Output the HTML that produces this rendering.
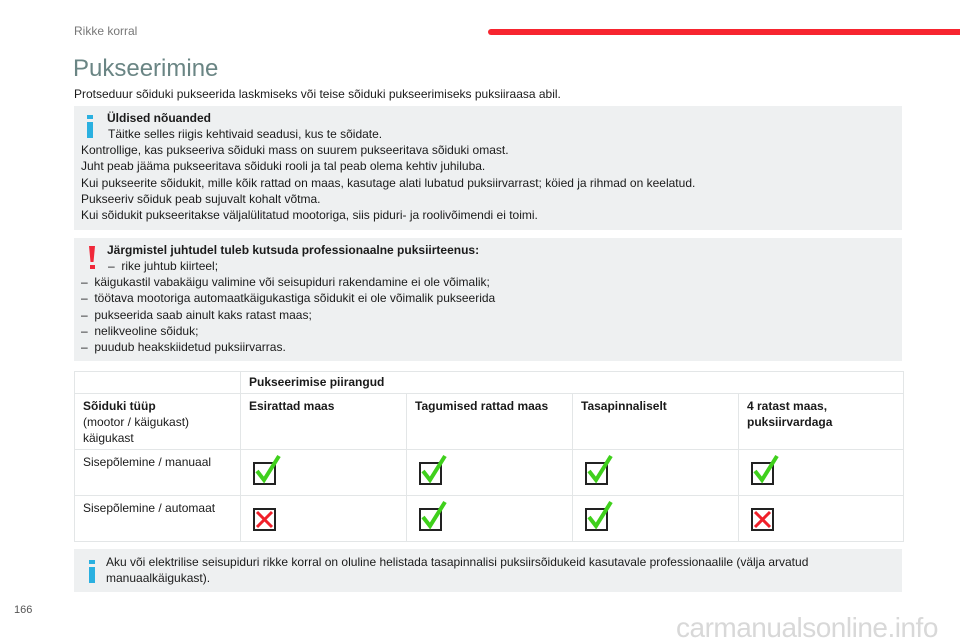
<!DOCTYPE html>
<html><head><meta charset="utf-8"><style>
body{margin:0;width:960px;height:640px;background:#fff;position:relative;overflow:hidden;font-family:"Liberation Sans",Arial,sans-serif;color:#1a1a1a}
.a{position:absolute;white-space:nowrap}
.box{position:absolute;left:74px;width:828px;background:#eef0f1}
.t{font-size:12px;line-height:16.3px}
.ib{position:absolute;width:6px;background:#2ab0e0}
td{border:1px solid #e3e6e7;vertical-align:top;padding:4px 8px 0 8px;font-size:12px;line-height:16px;box-sizing:border-box}
table{position:absolute;left:74px;top:371px;border-collapse:collapse;width:829px;table-layout:fixed}
.cb{display:block;position:relative;width:19px;height:19px;border:2px solid #222;margin-top:8px;margin-left:4px}
</style></head><body>
<div class="a" style="left:74px;top:24px;font-size:12px;color:#777">Rikke korral</div>
<div class="a" style="left:488px;top:29px;width:472px;height:6px;background:#f7252f;border-radius:3px 0 0 3px"></div>
<div class="a" style="left:73px;top:55px;font-size:24px;color:#6a8584">Pukseerimine</div>
<div class="a t" style="left:74px;top:86px">Protseduur sõiduki pukseerida laskmiseks või teise sõiduki pukseerimiseks puksiiraasa abil.</div>

<div class="box" style="top:106px;height:124px">
<div class="ib" style="left:13px;top:9px;height:4px"></div>
<div class="ib" style="left:13px;top:16px;height:16px"></div>
<div class="a t" style="left:33px;top:4px;font-weight:bold">Üldised nõuanded</div>
<div class="a t" style="left:34px;top:20px">Täitke selles riigis kehtivaid seadusi, kus te sõidate.</div>
<div class="a t" style="left:7px;top:36px">Kontrollige, kas pukseeriva sõiduki mass on suurem pukseeritava sõiduki omast.<br>Juht peab jääma pukseeritava sõiduki rooli ja tal peab olema kehtiv juhiluba.<br>Kui pukseerite sõidukit, mille kõik rattad on maas, kasutage alati lubatud puksiirvarrast; köied ja rihmad on keelatud.<br>Pukseeriv sõiduk peab sujuvalt kohalt võtma.<br>Kui sõidukit pukseeritakse väljalülitatud mootoriga, siis piduri- ja roolivõimendi ei toimi.</div>
</div>

<div class="box" style="top:238px;height:123px">
<div class="a" style="left:15px;top:8px;width:6px;height:16px;background:#f0283a;clip-path:polygon(0 0,100% 0,75% 100%,25% 100%)"></div>
<div class="a" style="left:16px;top:27px;width:5px;height:4px;background:#f0283a"></div>
<div class="a t" style="left:33px;top:4px;font-weight:bold">Järgmistel juhtudel tuleb kutsuda professionaalne puksiirteenus:</div>
<div class="a t" style="left:34px;top:20px">–&nbsp; rike juhtub kiirteel;</div>
<div class="a t" style="left:7px;top:36px">–&nbsp; käigukastil vabakäigu valimine või seisupiduri rakendamine ei ole võimalik;<br>–&nbsp; töötava mootoriga automaatkäigukastiga sõidukit ei ole võimalik pukseerida<br>–&nbsp; pukseerida saab ainult kaks ratast maas;<br>–&nbsp; nelikveoline sõiduk;<br>–&nbsp; puudub heakskiidetud puksiirvarras.</div>
</div>

<table>
<colgroup><col style="width:166px"><col style="width:166px"><col style="width:166px"><col style="width:166px"><col style="width:165px"></colgroup>
<tr style="height:22px"><td style="padding-top:2px"></td><td colspan="4" style="font-weight:bold;padding-top:2px">Pukseerimise piirangud</td></tr>
<tr style="height:56px"><td><b>Sõiduki tüüp</b><br>(mootor / käigukast)<br>käigukast</td><td style="font-weight:bold">Esirattad maas</td><td style="font-weight:bold">Tagumised rattad maas</td><td style="font-weight:bold">Tasapinnaliselt</td><td style="font-weight:bold">4 ratast maas,<br>puksiirvardaga</td></tr>
<tr style="height:46px"><td>Sisepõlemine / manuaal</td>
<td><span class="cb"><svg style="position:absolute;left:0;top:-10px" width="28" height="30"><path d="M2 17 L9 26 L24 2" stroke="#3fd01c" stroke-width="4" fill="none"/></svg></span></td>
<td><span class="cb"><svg style="position:absolute;left:0;top:-10px" width="28" height="30"><path d="M2 17 L9 26 L24 2" stroke="#3fd01c" stroke-width="4" fill="none"/></svg></span></td>
<td><span class="cb"><svg style="position:absolute;left:0;top:-10px" width="28" height="30"><path d="M2 17 L9 26 L24 2" stroke="#3fd01c" stroke-width="4" fill="none"/></svg></span></td>
<td><span class="cb"><svg style="position:absolute;left:0;top:-10px" width="28" height="30"><path d="M2 17 L9 26 L24 2" stroke="#3fd01c" stroke-width="4" fill="none"/></svg></span></td></tr>
<tr style="height:46px"><td>Sisepõlemine / automaat</td>
<td><span class="cb"><svg style="position:absolute;left:0;top:0" width="19" height="19"><path d="M2 2 L17 17 M17 2 L2 17" stroke="#f0202a" stroke-width="3"/></svg></span></td>
<td><span class="cb"><svg style="position:absolute;left:0;top:-10px" width="28" height="30"><path d="M2 17 L9 26 L24 2" stroke="#3fd01c" stroke-width="4" fill="none"/></svg></span></td>
<td><span class="cb"><svg style="position:absolute;left:0;top:-10px" width="28" height="30"><path d="M2 17 L9 26 L24 2" stroke="#3fd01c" stroke-width="4" fill="none"/></svg></span></td>
<td><span class="cb"><svg style="position:absolute;left:0;top:0" width="19" height="19"><path d="M2 2 L17 17 M17 2 L2 17" stroke="#f0202a" stroke-width="3"/></svg></span></td></tr>
</table>

<div class="box" style="top:549px;height:43px">
<div class="ib" style="left:15px;top:11px;height:4px"></div>
<div class="ib" style="left:15px;top:18px;height:16px"></div>
<div class="a t" style="left:32px;top:5px">Aku või elektrilise seisupiduri rikke korral on oluline helistada tasapinnalisi puksiirsõidukeid kasutavale professionaalile (välja arvatud<br>manuaalkäigukast).</div>
</div>

<div class="a" style="left:14px;top:604px;font-size:11px;color:#555">166</div>
<div class="a" style="left:676px;top:612px;font-size:28px;color:#d8d8d8;letter-spacing:-0.5px">carmanualsonline.info</div>
</body></html>
